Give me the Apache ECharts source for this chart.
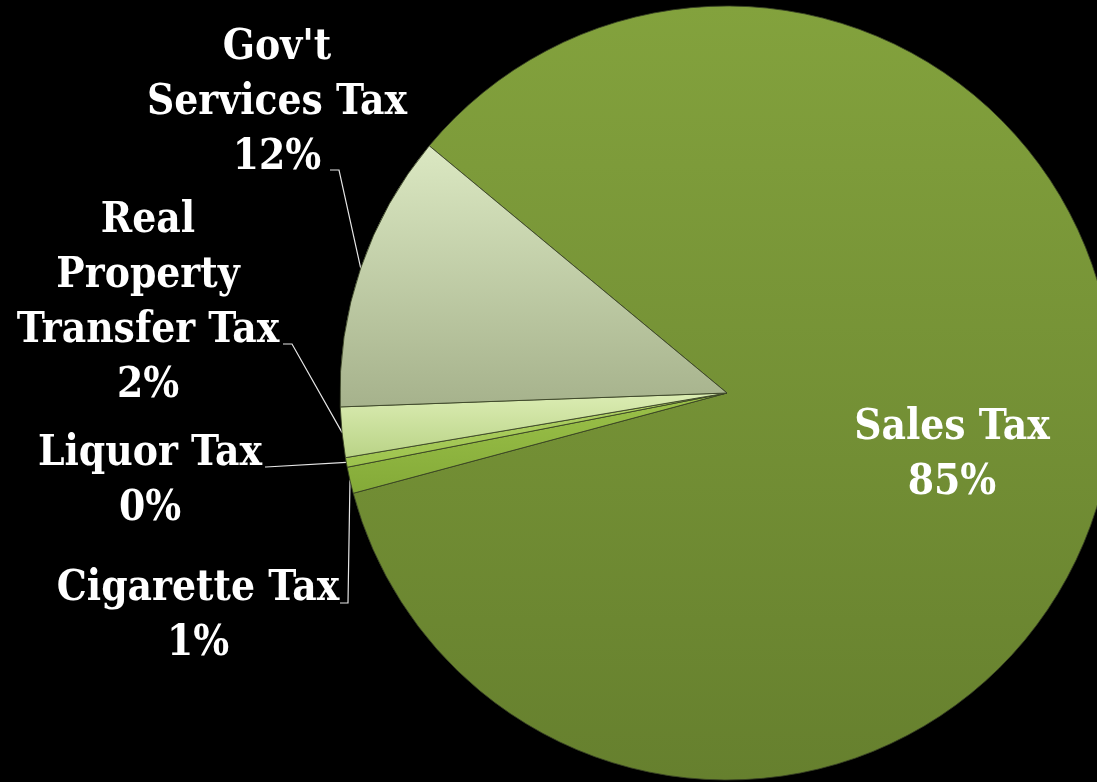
<!DOCTYPE html>
<html>
<head>
<meta charset="utf-8">
<script src="https://cdn.jsdelivr.net/npm/echarts@6/dist/echarts.min.js"></script>
<style>
  html, body { margin: 0; padding: 0; background: #000; }
  #chart { width: 1097px; height: 782px; }
</style>
</head>
<body>
<div id="chart"></div>
<script>
// Revenue sources, share of total (percent)
const categories = ['Sales Tax', 'Cigarette Tax', 'Liquor Tax', 'Real\nProperty\nTransfer Tax', "Gov't\nServices Tax"];
const shares = [84.8, 1.1, 0.4, 2.1, 11.6];

// Slice fills: [top colour, bottom colour]
const fills = [
  ['#83a23d', '#66802e'],
  ['#9cc24a', '#84aa38'],
  ['#b4d46a', '#9cc24c'],
  ['#dcedb4', '#b9d386'],
  ['#dbe8c2', '#a6b28c']
];

// Label placement (centre of text block) and leader-line anchor/elbow
const labelPlace = {
  'Sales Tax': { x: 952, y: 456 },
  'Cigarette Tax': { x: 198, y: 617, attach: [340, 603], elbow: [348, 603] },
  'Liquor Tax': { x: 150, y: 482, attach: [265, 467], elbow: [266, 467] },
  'Real\nProperty\nTransfer Tax': { x: 148, y: 304, attach: [283, 344], elbow: [292, 344] },
  "Gov't\nServices Tax": { x: 277, y: 103, attach: [330, 170], elbow: [339, 170] }
};

const center = [727, 393];
const radius = 387;
const startAngle = 140.3;

// Mid angle of each slice (degrees, clockwise from startAngle)
const total = shares.reduce((a, b) => a + b, 0);
const midAngles = [];
let acc = 0;
shares.forEach(v => {
  const span = v / total * 360;
  midAngles.push(startAngle - acc - span / 2);
  acc += span;
});

const chart = echarts.init(document.getElementById('chart'), null, { renderer: 'canvas' });

chart.setOption({
  backgroundColor: '#000',
  animation: false,
  series: [{
    type: 'pie',
    center: center,
    radius: radius,
    startAngle: startAngle,
    clockwise: true,
    avoidLabelOverlap: false,
    percentPrecision: 0,
    label: {
      show: true,
      position: 'outside',
      formatter: '{b}\n{d}%',
      color: '#fff',
      fontFamily: '"DejaVu Serif Condensed", "DejaVu Serif", serif',
      fontWeight: 'bold',
      fontSize: 42,
      lineHeight: 55,
      align: 'center'
    },
    labelLine: {
      show: true,
      lineStyle: { color: '#e6e6e6', width: 1.2 }
    },
    itemStyle: {
      borderColor: 'rgba(55,65,35,0.85)',
      borderWidth: 1
    },
    labelLayout: function (p) {
      const name = categories[p.dataIndex];
      const place = labelPlace[name];
      const out = { x: place.x, y: place.y, align: 'center', verticalAlign: 'middle' };
      if (place.attach) {
        const a = midAngles[p.dataIndex] * Math.PI / 180;
        const edge = [center[0] + radius * Math.cos(a), center[1] - radius * Math.sin(a)];
        out.labelLinePoints = [edge, place.elbow, place.attach];
      }
      return out;
    },
    data: categories.map((name, i) => ({
      name: name,
      value: shares[i],
      itemStyle: {
        color: new echarts.graphic.LinearGradient(0, 0, 0, 1, [
          { offset: 0, color: fills[i][0] },
          { offset: 1, color: fills[i][1] }
        ])
      },
      label: i === 0 ? { position: 'inside' } : {},
      labelLine: i === 0 ? { show: false } : {}
    }))
  }]
});
</script>
</body>
</html>
